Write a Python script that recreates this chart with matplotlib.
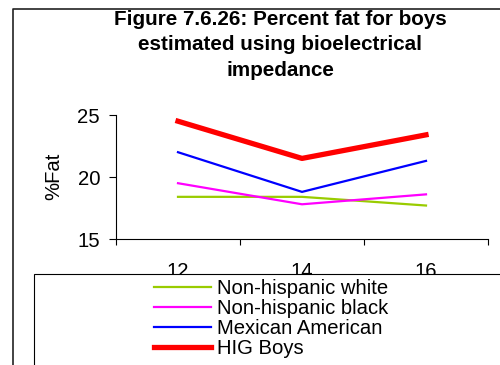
import matplotlib.pyplot as plt
import matplotlib.patches as patches
from matplotlib.lines import Line2D
import numpy as np

plt.rcParams['font.family'] = ['Liberation Sans', 'DejaVu Sans']

ages = ["12", "14", "16"]
nh_white = [18.4, 18.4, 17.7]
nh_black = [19.5, 17.8, 18.6]
mexican_american = [22.0, 18.8, 21.3]
hig_boys = [24.5, 21.5, 23.4]

fs = 14.6

fig = plt.figure(figsize=(5, 3.65), dpi=100)
ax = fig.add_axes([0.232, 0.3452, 0.744, 0.3397])

x = np.arange(len(ages))
ax.plot(x, nh_white, color="#99CC00", lw=1.6, label="Non-hispanic white")
ax.plot(x, nh_black, color="#FF00FF", lw=1.6, label="Non-hispanic black")
ax.plot(x, mexican_american, color="#0000FF", lw=1.6, label="Mexican American")
ax.plot(x, hig_boys, color="#FF0000", lw=3.8, label="HIG Boys")

ax.set_xlim(-0.5, 2.5)
ax.set_ylim(15, 25)
ax.set_yticks([15, 20, 25])
ax.set_xticks(x)
ax.set_xticklabels(ages)
ax.set_xticks([-0.5, 0.5, 1.5, 2.5], minor=True)
ax.tick_params(axis="x", which="major", length=0, pad=16.5, labelsize=fs)
ax.tick_params(axis="x", which="minor", length=4.3, width=0.8, direction="out")
ax.tick_params(axis="y", length=5, width=0.8, pad=6.5, labelsize=fs)
for s in ["top", "right"]:
    ax.spines[s].set_visible(False)
for s in ["left", "bottom"]:
    ax.spines[s].set_linewidth(0.8)

ax.set_ylabel("%Fat", fontsize=fs)
ax.yaxis.set_label_coords(-0.1425, 0.508)

fig.text(0.56, 1 - 45 / 365,
         "Figure 7.6.26: Percent fat for boys\nestimated using bioelectrical\nimpedance",
         ha="center", va="center", fontsize=14.9, fontweight="bold", linespacing=1.45)

# outer chart frame: left edge and top edge
frame_top = 1 - 8.5 / 365
fig.add_artist(Line2D([0.025, 0.025, 1.0], [0.0, frame_top, frame_top],
                      color="#222222", lw=1.2))

# legend box
fig.patches.append(patches.Rectangle((34 / 500, -0.1), 1.2, 0.1 + 1 - 274 / 365,
                                     transform=fig.transFigure, facecolor="white",
                                     edgecolor="black", lw=0.8, zorder=5))

h, l = ax.get_legend_handles_labels()
leg = fig.legend(h, l, loc="center", bbox_to_anchor=(271 / 500, 1 - 318.5 / 365),
                 frameon=False, fontsize=fs, handlelength=2.8, handletextpad=0.3,
                 labelspacing=0.05, borderpad=0)
leg.set_zorder(6)

fig.savefig("out.png", dpi=100)
